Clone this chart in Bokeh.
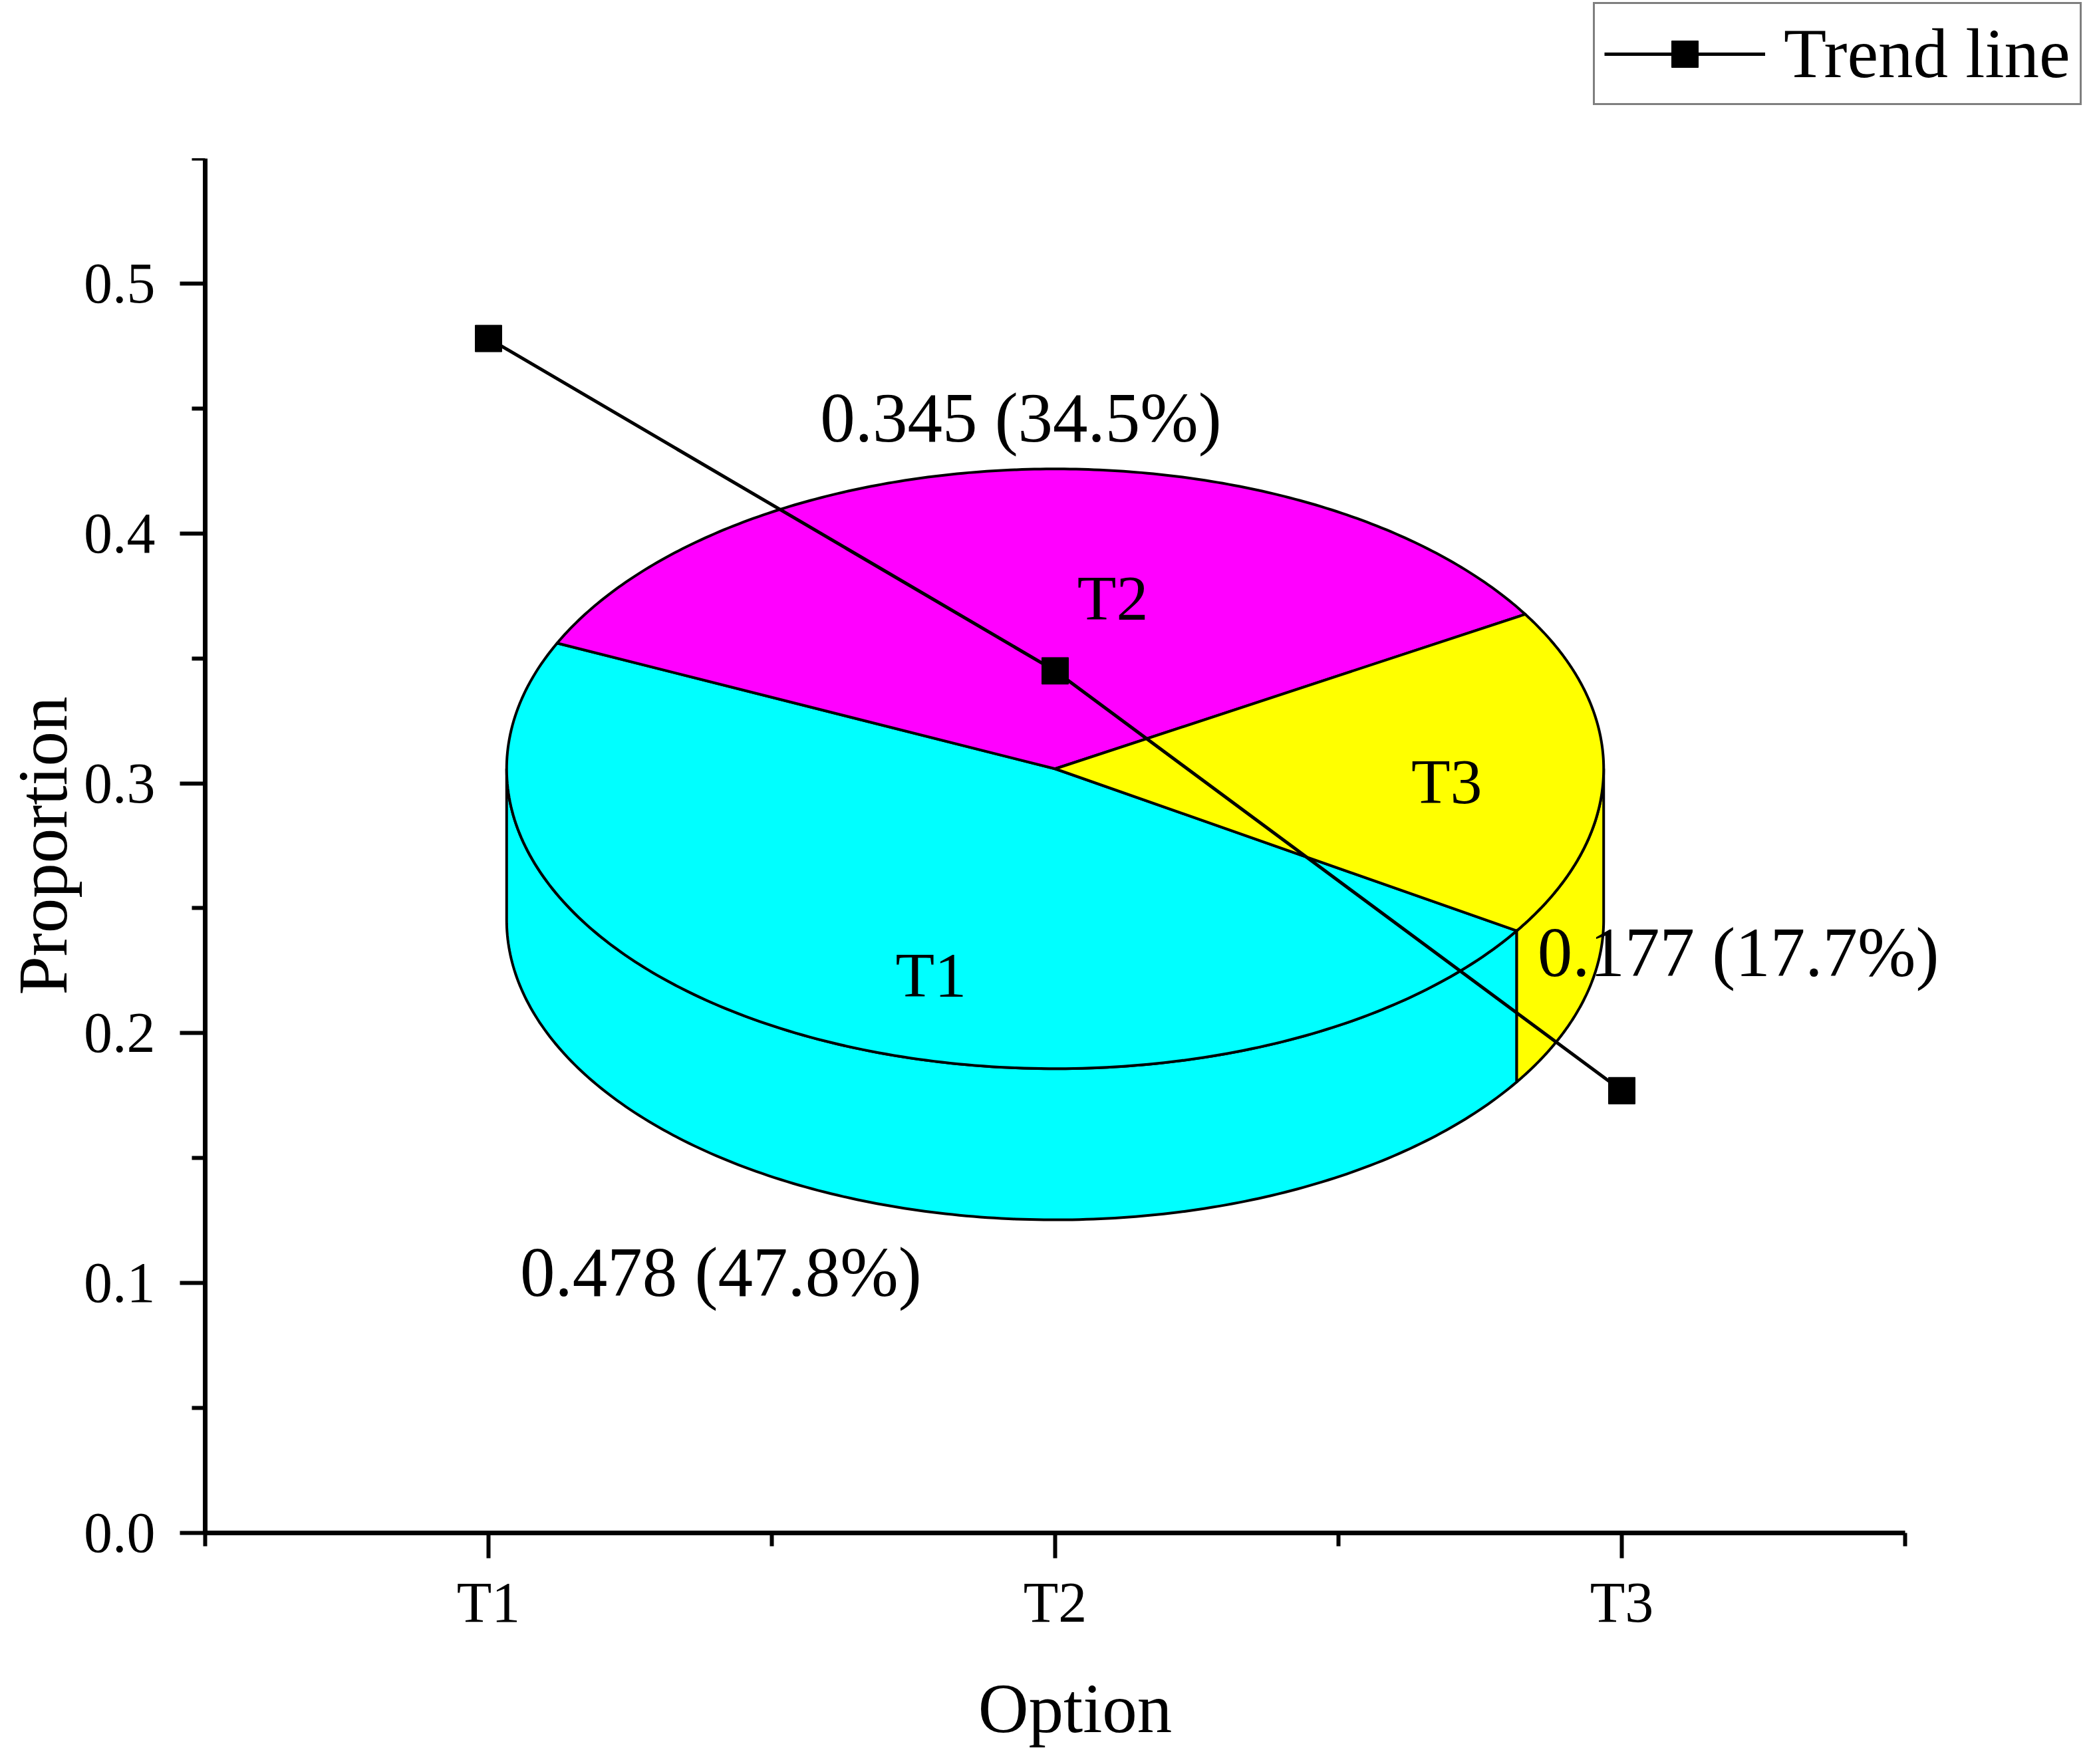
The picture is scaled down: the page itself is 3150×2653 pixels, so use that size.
import numpy as np
from bokeh.plotting import figure
from bokeh.layouts import column
from bokeh.models import (FixedTicker, Legend, LegendItem, Range1d, Label,
                          PrintfTickFormatter)
from bokeh.embed import file_html
from bokeh.resources import INLINE

# ---------------- data ----------------
options = ["T1", "T2", "T3"]
proportions = [0.478, 0.345, 0.177]
pie_colors = ["#00FFFF", "#FF00FF", "#FFFF00"]
y_ticks = [0.0, 0.1, 0.2, 0.3, 0.4, 0.5]
y_minor = [0.05, 0.15, 0.25, 0.35, 0.45, 0.55]
x_minor = [0.5, 1.5, 2.5, 3.5]

# ---------------- layout / style ----------------
FONT = "Liberation Serif"
W = 3146
TOP_H = 238                  # strip above the axes that holds the legend
H = 2650 - TOP_H
LEFT, RIGHT = 308, 222
BOTTOM = H - 2067
x_pos = [i + 1 for i in range(len(options))]

px_per_x = 2556 / 3.0
x_end = 0.5 + (W - LEFT - RIGHT) / px_per_x

p = figure(width=W, height=H, output_backend="svg", toolbar_location=None,
           x_range=Range1d(0.5, x_end), y_range=Range1d(0, 0.55),
           min_border_left=LEFT, min_border_right=RIGHT,
           min_border_top=0, min_border_bottom=BOTTOM)
p.frame_align = False
p.xgrid.visible = False
p.ygrid.visible = False
p.outline_line_color = None
p.background_fill_color = "white"
p.border_fill_color = "white"

# ---------------- 3D pie (geometry derived from proportions) ----------------
cx, cy = 2.0, 0.3058          # pie centre in data units
rx, ry, depth = 0.968, 0.120, 0.0605
start_deg = -32.7             # slices run clockwise from here

cum = np.concatenate([[0.0], np.cumsum(proportions)])
a_hi = start_deg - 360.0 * cum[:-1]
a_lo = start_deg - 360.0 * cum[1:]


def arc(a0, a1, n=200, dy=0.0):
    t = np.radians(np.linspace(a0, a1, n))
    return cx + rx * np.cos(t), cy + ry * np.sin(t) - dy


side_xs, side_ys, side_cols = [], [], []
for lo, hi, col in zip(a_lo, a_hi, pie_colors):
    for k in (-2, -1, 0, 1):
        s0, s1 = -180.0 + 360.0 * k, 360.0 * k
        a, b = max(lo, s0), min(hi, s1)
        if b > a:
            tx, ty = arc(a, b)
            bx, by = arc(b, a, dy=depth)
            side_xs.append(list(np.concatenate([tx, bx])))
            side_ys.append(list(np.concatenate([ty, by])))
            side_cols.append(col)

p.patches(side_xs, side_ys, fill_color=side_cols, line_color="black",
          line_width=4, line_join="round")

top_xs, top_ys = [], []
for lo, hi in zip(a_lo, a_hi):
    tx, ty = arc(hi, lo)
    top_xs.append([cx] + list(tx))
    top_ys.append([cy] + list(ty))
p.patches(top_xs, top_ys, fill_color=pie_colors, line_color="black",
          line_width=4, line_join="round")

# slice names (positions relative to pie centre)
slice_label_off = [(-0.219, -0.0826), (0.1016, 0.0682), (0.691, -0.0051)]
for name, (dx, dy) in zip(options, slice_label_off):
    p.add_layout(Label(x=cx + dx, y=cy + dy, text=name, text_font=FONT,
                       text_font_size="96px", text_align="center",
                       text_baseline="alphabetic", text_color="black"))

# value labels
value_label_pos = [(1.410, 0.1044), (1.9395, 0.4462), (3.2055, 0.2323)]
for v, (lx, ly) in zip(proportions, value_label_pos):
    p.add_layout(Label(x=lx, y=ly, text=f"{v:.3f} ({v * 100:.1f}%)",
                       text_font=FONT, text_font_size="105px",
                       text_align="center", text_baseline="alphabetic",
                       text_color="black"))

# ---------------- trend line ----------------
p.line(x_pos, proportions, line_color="black", line_width=5)
p.scatter(x_pos, proportions, marker="square", size=40,
          fill_color="black", line_color="black")

# ---------------- axes ----------------
for ax in (p.xaxis[0], p.yaxis[0]):
    ax.axis_line_width = 7
    ax.axis_line_color = "black"
    ax.major_tick_line_width = 6
    ax.minor_tick_line_width = 6
    ax.major_tick_line_color = "black"
    ax.minor_tick_line_color = "black"
    ax.major_tick_out = 38
    ax.major_tick_in = 0
    ax.minor_tick_out = 20
    ax.minor_tick_in = 0
    ax.major_label_text_font = FONT
    ax.major_label_text_font_size = "86px"
    ax.major_label_text_color = "black"
    ax.axis_label_text_font = FONT
    ax.axis_label_text_font_size = "105px"
    ax.axis_label_text_font_style = "normal"
    ax.axis_label_text_color = "black"

p.xaxis.bounds = (0.5, 3.5)
p.yaxis.bounds = (0.0, 0.55)

p.xaxis.ticker = FixedTicker(ticks=x_pos, minor_ticks=x_minor)
p.xaxis.major_label_overrides = {x: o for x, o in zip(x_pos, options)}
p.xaxis.axis_label = "Option"
p.xaxis.major_label_standoff = 18
p.xaxis.axis_label_standoff = 50

p.yaxis.ticker = FixedTicker(ticks=y_ticks, minor_ticks=y_minor)
p.yaxis.formatter = PrintfTickFormatter(format="%.1f")
p.yaxis.axis_label = "Proportion"
p.yaxis.major_label_standoff = 37
p.yaxis.axis_label_standoff = 0

# ---------------- legend strip above the axes ----------------
lg = figure(width=W, height=TOP_H, output_backend="svg",
            toolbar_location=None, x_range=Range1d(10, 11),
            y_range=Range1d(10, 11), min_border_left=0, min_border_right=0,
            min_border_top=0, min_border_bottom=0)
lg.frame_align = False
lg.axis.visible = False
lg.xgrid.visible = False
lg.ygrid.visible = False
lg.outline_line_color = None
lg.border_fill_color = "white"
lg_ln = lg.line(x_pos, proportions, line_color="black", line_width=5)
lg_sc = lg.scatter(x_pos, proportions, marker="square", size=40,
                   fill_color="black", line_color="black")
legend = Legend(items=[LegendItem(label="Trend line",
                                  renderers=[lg_ln, lg_sc])],
                location=(2395, 80), margin=0, padding=14,
                glyph_width=242, glyph_height=100, label_height=120,
                label_standoff=28, label_text_font=FONT,
                label_text_font_size="105px", label_text_color="black",
                border_line_color="black", border_line_width=3,
                background_fill_color="white", background_fill_alpha=1.0)
lg.add_layout(legend)

layout = column(lg, p, spacing=0)
open("out.html", "w").write(file_html(layout, INLINE))
